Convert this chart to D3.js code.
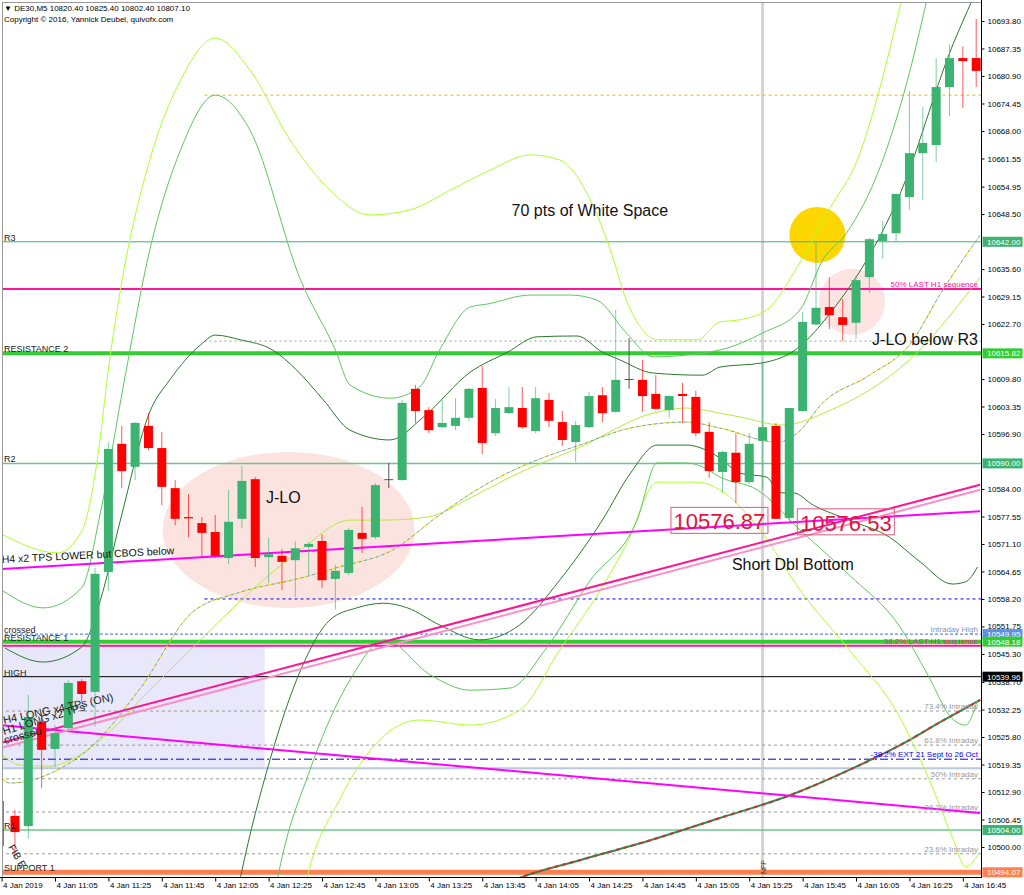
<!DOCTYPE html>
<html>
<head>
<meta charset="utf-8">
<script src="https://cdn.jsdelivr.net/npm/d3@7"></script>
<style>
body { margin: 0; background: #fff; }
svg { display: block; font-family: "Liberation Sans", Arial, sans-serif; }
</style>
</head>
<body>
<div id="chart"></div>
<script>
const w = 1024, h = 895;
const plotR = 981, plotB = 877;

const barStart = new Date(2019, 0, 4, 10, 45);
const barMinutes = 5;
const lastBar = 73;

// DE30 M5 candles, bar 1 = 10:50 ... bar 73 = 16:50
const opens = [10507.3, 10504.9, 10529.3, 10523.0, 10527.9, 10538.9, 10536.4, 10564.5, 10594.6, 10589.2,
  10598.8, 10593.6, 10584.2, 10577.4, 10576.0, 10573.9, 10567.8, 10577.0, 10586.3, 10568.0,
  10568.3, 10567.3, 10570.4, 10571.8, 10562.9, 10564.3, 10573.7, 10572.7, 10586.3, 10586.1,
  10607.5, 10602.5, 10598.5, 10598.8, 10600.7, 10607.7, 10597.1, 10601.8, 10603.0, 10597.6,
  10604.9, 10599.7, 10595.0, 10598.5, 10606.0, 10602.1, 10609.8, 10609.6, 10606.3, 10602.5,
  10606.3, 10605.6, 10597.4, 10588.0, 10592.5, 10585.6, 10595.3, 10598.8, 10577.2, 10602.3,
  10622.6, 10626.7, 10624.3, 10623.0, 10633.7, 10642.2, 10644.0, 10652.5, 10662.8, 10664.7,
  10678.3, 10685.1, 10685.1];
const highs = [10508.7, 10535.7, 10531.2, 10528.6, 10539.2, 10539.4, 10565.5, 10595.0, 10598.8, 10599.7,
  10601.8, 10597.4, 10586.1, 10582.8, 10577.4, 10577.9, 10583.8, 10589.4, 10586.8, 10572.5,
  10569.9, 10571.8, 10571.6, 10573.4, 10566.2, 10574.8, 10579.8, 10585.4, 10590.1, 10604.9,
  10608.4, 10603.2, 10604.9, 10605.3, 10607.7, 10612.9, 10605.1, 10607.9, 10607.9, 10607.9,
  10606.5, 10602.3, 10600.0, 10606.8, 10607.9, 10626.0, 10619.4, 10614.3, 10610.7, 10606.0,
  10608.9, 10607.0, 10599.7, 10593.0, 10597.1, 10597.1, 10613.6, 10599.5, 10603.0, 10625.5,
  10642.0, 10633.7, 10628.6, 10634.0, 10642.9, 10646.9, 10653.4, 10677.4, 10673.6, 10685.1,
  10688.2, 10687.9, 10694.3];
const lows = [10497.4, 10501.9, 10513.8, 10518.8, 10527.5, 10533.8, 10528.2, 10560.1, 10584.2, 10586.1,
  10593.1, 10580.2, 10575.5, 10572.7, 10568.0, 10567.8, 10566.4, 10574.8, 10565.7, 10561.9,
  10560.3, 10558.7, 10563.6, 10560.8, 10555.7, 10563.8, 10569.0, 10572.3, 10584.2, 10585.9,
  10599.5, 10597.1, 10598.3, 10597.8, 10600.0, 10592.2, 10596.4, 10601.6, 10598.1, 10597.1,
  10598.5, 10594.1, 10590.3, 10598.3, 10599.7, 10601.8, 10607.5, 10602.1, 10602.5, 10600.7,
  10599.5, 10596.4, 10586.6, 10583.1, 10580.7, 10585.2, 10583.8, 10576.87, 10576.53, 10602.1,
  10622.4, 10621.5, 10618.7, 10619.2, 10630.0, 10638.0, 10642.2, 10649.5, 10651.8, 10660.7,
  10671.5, 10673.4, 10678.3];
const closes = [10503.5, 10530.5, 10522.8, 10526.7, 10538.5, 10535.9, 10564.1, 10593.4, 10588.2, 10599.5,
  10593.6, 10584.5, 10577.0, 10577.1, 10573.7, 10568.3, 10576.3, 10585.9, 10567.8, 10568.7,
  10566.9, 10570.1, 10571.1, 10562.6, 10564.8, 10574.4, 10572.3, 10584.9, 10586.3, 10604.2,
  10602.3, 10597.8, 10599.5, 10600.7, 10607.5, 10594.8, 10603.0, 10603.2, 10598.5, 10605.3,
  10600.0, 10595.5, 10599.0, 10605.8, 10601.8, 10609.6, 10609.8, 10605.8, 10602.8, 10605.8,
  10605.8, 10597.1, 10588.2, 10592.7, 10585.6, 10594.6, 10598.5, 10577.0, 10603.0, 10623.2,
  10626.5, 10624.8, 10622.5, 10633.0, 10642.6, 10643.8, 10653.2, 10662.8, 10665.2, 10678.3,
  10685.1, 10684.4, 10682.1];

// band / average lines as [bar, price]
const bbUpper1 = [[0.25,10546.7],[3.1,10543.4],[6.0,10546.9],[7.4,10557.9],[8.9,10576.7],[11.1,10602.1],[12.6,10609.6],[14.9,10617.8],[16.0,10620.1],[17.9,10619.0],[20.3,10616.6],[22.1,10611.9],[24.1,10604.9],[26.1,10597.8],[29.1,10595.5],[31.6,10600.9],[35.1,10611.4],[37.9,10616.1],[40.1,10619.7],[43.1,10619.9],[45.0,10616.1],[46.3,10614.3],[48.8,10611.2],[52.5,10610.7],[53.8,10612.6],[57.0,10613.6],[59.1,10615.9],[62.8,10628.3],[64.8,10637.7],[67.1,10651.8],[71.3,10688.6],[72.7,10698.7]];
const bbLower1 = [[16.5,10470],[17.9,10493.0],[20.1,10520.4],[22.4,10541.5],[24.6,10553.3],[26.6,10556.1],[28.6,10557.2],[30.4,10556.1],[32.8,10552.1],[35.8,10548.6],[38.8,10552.1],[41.8,10562.6],[45.0,10576.7],[47.1,10587.7],[49.1,10594.3],[51.3,10594.3],[53.8,10591.3],[55.3,10587.7],[57.3,10586.8],[58.3,10583.1],[59.3,10583.1],[60.8,10580.2],[63.5,10576.7],[66.5,10572.7],[68.8,10566.9],[71.2,10561.7],[72.2,10562.2],[73.1,10565.7]];
const bbUpper2 = [[0,10560.3],[3.1,10556.1],[6.0,10560.8],[7.4,10578.4],[9.2,10609.6],[11.1,10640.1],[13.4,10663.5],[16.0,10676.4],[18.6,10668.2],[22.4,10633.0],[25.0,10616.6],[26.1,10608.4],[29.1,10605.3],[31.3,10607.9],[32.8,10616.6],[35.1,10626.7],[36.4,10627.4],[39.6,10629.5],[42.6,10629.5],[44.6,10628.3],[46.8,10620.6],[48.8,10615.0],[52.5,10615.9],[53.8,10616.6],[57.0,10620.6],[59.8,10626.0],[61.5,10637.7],[63.3,10644.1],[65.8,10659.5],[67.8,10679.3],[69.3,10698.7]];
const bbLower2 = [[19.5,10470],[20.7,10493.0],[23.1,10518.1],[26.1,10539.2],[28.7,10548.6],[32.1,10540.4],[35.1,10536.8],[38.1,10537.3],[40.7,10546.2],[44.1,10562.6],[47.6,10576.7],[49.1,10590.1],[51.3,10590.1],[52.5,10589.2],[53.8,10586.8],[56.6,10583.8],[59.8,10574.4],[63.5,10563.8],[67.3,10551.6],[69.3,10540.8],[71.3,10529.8],[72.2,10528.6],[73.1,10534.5]];
const bbUpper3 = [[0,10573.4],[4.2,10569.0],[6.0,10574.1],[7.4,10596.2],[7.9,10609.6],[8.9,10630.7],[11.1,10661.2],[13.4,10679.9],[16.0,10689.8],[18.6,10682.3],[21.6,10665.9],[24.6,10654.1],[27.6,10648.3],[30.6,10649.5],[33.6,10654.1],[36.6,10658.8],[39.6,10662.4],[41.8,10661.2],[44.1,10651.8],[45.6,10640.1],[46.8,10628.3],[49.2,10619.0],[52.1,10619.0],[53.8,10623.2],[55.3,10623.7],[57.3,10626.0],[59.6,10636.1],[62.1,10650.2],[64.1,10661.2],[65.8,10678.3],[67.4,10698.7]];
const bbLower3 = [[21.5,10470],[22.9,10493.0],[25.3,10511.0],[28.3,10525.1],[31.3,10529.8],[35.1,10528.6],[38.8,10532.1],[41.8,10546.2],[44.8,10560.0],[46.8,10571.0],[49.1,10585.6],[52.1,10585.6],[53.8,10583.8],[56.8,10574.4],[59.8,10560.3],[63.5,10546.2],[67.3,10530.3],[69.8,10513.4],[71.3,10501.6],[72.2,10495.3],[73.1,10498.1]];
const maDashed = [[0,10516.2],[0.6,10515.0],[4.2,10518.1],[6.6,10523.2],[10.4,10537.3],[14.3,10555.1],[17.9,10559.8],[22.4,10563.1],[25.3,10565.7],[29.3,10569.7],[32.8,10577.9],[35.8,10584.2],[40.1,10590.8],[43.3,10594.3],[47.1,10598.3],[51.3,10599.7],[53.8,10598.3],[58.1,10595.0],[59.6,10597.1],[61.5,10604.2],[65.0,10610.7],[68.0,10617.8],[70.5,10630.7],[73.3,10643.6]];
const maSolid = [[0,10521.8],[1.4,10519.2],[3.6,10519.0],[5.6,10521.1],[7.4,10525.1],[11.1,10536.8],[14.9,10548.6],[18.6,10559.8],[22.4,10569.7],[26.1,10576.7],[28.6,10576.7],[31.9,10577.4],[35.1,10581.9],[38.1,10586.8],[43.3,10593.8],[48.8,10601.8],[51.3,10603.0],[53.8,10601.8],[55.3,10600.9],[58.5,10599.0],[62.1,10602.5],[68.0,10614.3],[73.3,10633.7]];
const maSlow = [[35.8,10488.7],[39.0,10493.0],[43.3,10496.9],[48.6,10501.6],[53.8,10506.8],[59.1,10512.2],[63.5,10518.1],[67.3,10523.9],[70.3,10529.3],[73.3,10534.5]];

// trend lines [[bar, price], [bar, price]]
const tlH4Lower = [[-0.12,10565.2],[73.29,10578.8]];
const tlDown = [[-0.12,10528.6],[73.29,10508.0]];
const tlH4Long = [[-0.12,10524.4],[73.29,10585.0]];
const tlH1Long = [[-0.12,10523.2],[73.29,10583.8]];

// horizontal levels
const levelNames = ["R3", "50% LAST H1", "RESISTANCE 2", "R2", "Intraday High", "RESISTANCE 1", "38.2% LAST H1", "HIGH",
  "73.4% Intraday", "61.8% Intraday", "EXT", "steel", "50% Intraday", "38.2% Intraday", "R1", "23.6% Intraday", "SUPPORT 1"];
const levelPrices = [10642.00, 10630.9, 10615.82, 10590.00, 10549.95, 10548.18, 10547.2, 10539.96,
  10531.9, 10523.9, 10520.6, 10518.5, 10516.0, 10508.2, 10504.00, 10498.4, 10494.07];
const leftLabels = {"R3": "R3", "RESISTANCE 2": "RESISTANCE 2", "R2": "R2", "Intraday High": "crossed",
  "RESISTANCE 1": "RESISTANCE 1", "HIGH": "HIGH", "R1": "R1", "SUPPORT 1": "SUPPORT 1"};
const rightLabels = {"50% LAST H1": "50%  LAST H1 sequence", "Intraday High": "Intraday High",
  "38.2% LAST H1": "38.2%  LAST H1 sequence", "73.4% Intraday": "73.4%  Intraday", "61.8% Intraday": "61.8%  Intraday",
  "EXT": "-38.2%  EXT 21 Sept to 26 Oct", "50% Intraday": "50%  Intraday", "38.2% Intraday": "38.2%  Intraday",
  "23.6% Intraday": "23.6%  Intraday"};
const shortLevelPrices = [10676.4, 10618.7, 10558.2];
const shortLevelFrom = 15.2;

// right axis
const yTickLabels = ["10693.80","10687.35","10680.90","10674.45","10668.00","10661.55","10654.95","10648.50",
  "10635.60","10629.15","10622.70","10609.80","10603.35","10596.90","10584.00","10577.55","10571.10",
  "10564.65","10558.20","10551.75","10545.30","10538.70","10532.25","10525.80","10519.35","10512.90",
  "10506.45","10500.00"];
const tagPrices = [10642.00, 10615.82, 10590.00, 10549.95, 10548.18, 10539.96, 10504.00, 10494.07];
const tagColors = ["#3cb371", "#32cd32", "#3cb371", "#5f8ee8", "#32cd32", "#000000", "#3cb371", "#ff7f50"];

const nfpBar = 57;

const levelStyle = {
  "R3": {c: "#3cb371", w: 1},
  "50% LAST H1": {c: "#ff1493", w: 2},
  "RESISTANCE 2": {c: "#32cd32", w: 4},
  "R2": {c: "#6cc48e", w: 1.5},
  "Intraday High": {c: "#4169e1", w: 1, d: "3,2"},
  "RESISTANCE 1": {c: "#32cd32", w: 4},
  "38.2% LAST H1": {c: "#ff1493", w: 2},
  "HIGH": {c: "#000", w: 1},
  "73.4% Intraday": {c: "#999", w: 1, d: "3,3"},
  "61.8% Intraday": {c: "#999", w: 1, d: "3,3"},
  "EXT": {c: "#0000cd", w: 1, d: "8,3,2,3"},
  "steel": {c: "#b8c8de", w: 2},
  "50% Intraday": {c: "#999", w: 1, d: "3,3"},
  "38.2% Intraday": {c: "#999", w: 1, d: "3,3"},
  "R1": {c: "#6cc48e", w: 1.5},
  "23.6% Intraday": {c: "#999", w: 1, d: "3,3"},
  "SUPPORT 1": {c: "#ff7f50", w: 5}
};
const rightLabelColor = {"50% LAST H1": "#ff1493", "38.2% LAST H1": "#ff1493", "Intraday High": "#8595b5", "EXT": "#0000ff"};

const x = d3.scaleLinear().domain([0, lastBar]).range([1.6, 976.2]);
const y = d3.scaleLinear().domain([10500, 10693.8]).range([847, 21]);
const xTime = d3.scaleTime()
  .domain([barStart, d3.timeMinute.offset(barStart, lastBar * barMinutes)])
  .range(x.range());

const svg = d3.select("#chart").append("svg")
  .attr("width", w).attr("height", h);

svg.append("defs").append("clipPath").attr("id", "plot")
  .append("rect").attr("x", 2).attr("y", 2).attr("width", plotR - 2).attr("height", plotB - 2);

const plot = svg.append("g").attr("clip-path", "url(#plot)");

// shaded box
plot.append("rect")
  .attr("x", 0).attr("width", x(19.7))
  .attr("y", y(10547.2)).attr("height", y(10518.5) - y(10547.2))
  .attr("fill", "#e8e8fa");

// J-LO zones and the gold spot
plot.append("ellipse")
  .attr("cx", x(21.5)).attr("cy", y(10574.4)).attr("rx", 126).attr("ry", 78)
  .attr("fill", "#fbe0dc").attr("opacity", 0.9);
plot.append("circle")
  .attr("cx", x(63.7)).attr("cy", y(10627.9)).attr("r", 33)
  .attr("fill", "#fde0de").attr("opacity", 0.9);
plot.append("circle")
  .attr("cx", x(61.1)).attr("cy", y(10643.6)).attr("r", 28)
  .attr("fill", "#ffd700");

// NFP
plot.append("line")
  .attr("x1", x(nfpBar)).attr("x2", x(nfpBar)).attr("y1", 2).attr("y2", plotB)
  .attr("stroke", "#d4d4d4").attr("stroke-width", 3);

// levels
levelNames.forEach((name, k) => {
  const s = levelStyle[name];
  const yy = y(levelPrices[k]);
  plot.append("line")
    .attr("x1", 0).attr("x2", plotR).attr("y1", yy).attr("y2", yy)
    .attr("stroke", s.c).attr("stroke-width", s.w)
    .attr("stroke-dasharray", s.d || null);
});
const shortStyles = [{c: "#f5b800", d: "3,3"}, {c: "#8aa88a", d: "2,3"}, {c: "#0000ff", d: "3,3"}];
shortLevelPrices.forEach((p, k) => {
  plot.append("line")
    .attr("x1", x(shortLevelFrom)).attr("x2", plotR).attr("y1", y(p)).attr("y2", y(p))
    .attr("stroke", shortStyles[k].c).attr("stroke-dasharray", shortStyles[k].d);
});

// bands and averages
const line = d3.line().x(d => x(d[0])).y(d => y(d[1])).curve(d3.curveMonotoneX);
function drawLine(data, color, width, dash, offset) {
  plot.append("path").datum(data)
    .attr("d", line).attr("fill", "none")
    .attr("stroke", color).attr("stroke-width", width)
    .attr("stroke-dasharray", dash || null)
    .attr("stroke-dashoffset", offset || null);
}
drawLine(maSlow, "#2e8b57", 2);
drawLine(maSlow, "#c0392b", 2, "4,4");
drawLine(bbUpper3, "#adff2f", 1);
drawLine(bbLower3, "#adff2f", 1);
drawLine(bbUpper2, "#5cc85c", 1);
drawLine(bbLower2, "#5cc85c", 1);
drawLine(bbUpper1, "#2a7a2a", 1);
drawLine(bbLower1, "#2a7a2a", 1);
drawLine(maSolid, "#b4ee3c", 1);
drawLine(maDashed, "#5f9ea0", 1, "3,3");
drawLine(maDashed, "#eee000", 1, "3,3", 3);

// trend lines
const straight = d3.line().x(d => x(d[0])).y(d => y(d[1]));
[[tlH4Lower, "#ff00ff"], [tlDown, "#ff00ff"], [tlH1Long, "#ff8ec8"], [tlH4Long, "#ff1493"]].forEach(([d, c]) => {
  plot.append("path").datum(d).attr("d", straight)
    .attr("fill", "none").attr("stroke", c).attr("stroke-width", 2);
});

// candles
const candles = opens.map((o, k) => ({i: k + 1, o, h: highs[k], l: lows[k], c: closes[k]}));
const colorOf = d => d.c > d.o ? "#3cb371" : d.c < d.o ? "#ff0000" : "#555";
const cg = plot.append("g").selectAll("g").data(candles).join("g");
cg.append("line")
  .attr("x1", d => x(d.i)).attr("x2", d => x(d.i))
  .attr("y1", d => y(d.h)).attr("y2", d => y(d.l))
  .attr("stroke", colorOf).attr("stroke-opacity", d => d.c === d.o ? 1 : 0.65);
cg.append("rect")
  .attr("x", d => x(d.i) - 4.5).attr("width", 9)
  .attr("y", d => y(Math.max(d.o, d.c)))
  .attr("height", d => Math.max(1, Math.abs(y(d.o) - y(d.c))))
  .attr("fill", colorOf);

// left level labels
levelNames.forEach((name, k) => {
  if (leftLabels[name]) {
    plot.append("text").attr("x", 4).attr("y", y(levelPrices[k]) - 1)
      .attr("font-size", 9).attr("fill", "#222").text(leftLabels[name]);
  }
  if (rightLabels[name]) {
    plot.append("text").attr("x", 978).attr("y", y(levelPrices[k]) - 2)
      .attr("text-anchor", "end").attr("font-size", 8)
      .attr("fill", rightLabelColor[name] || "#999").text(rightLabels[name]);
  }
});

// trendline notes
plot.append("text")
  .attr("transform", `translate(2,${y(tlH4Lower[0][1]) - 6}) rotate(-3)`)
  .attr("font-size", 10.5).attr("fill", "#111").text("H4 x2 TPS LOWER but CBOS below");
plot.append("text")
  .attr("transform", `translate(4,${y(tlH4Long[0][1]) - 19}) rotate(-12)`)
  .attr("font-size", 11).attr("fill", "#222").text("H4 LONG x4 TPs (ON)");
plot.append("text")
  .attr("transform", `translate(4,${y(tlH4Long[0][1]) - 8}) rotate(-17)`)
  .attr("font-size", 11).attr("fill", "#222").text("H1 LONG x2 TPs");
plot.append("text")
  .attr("transform", `translate(5,${y(tlH4Long[0][1]) + 1}) rotate(-15)`)
  .attr("font-size", 11).attr("fill", "#222").text("crossed");
plot.append("line").attr("x1", 3).attr("x2", 3).attr("y1", y(10510.8)).attr("y2", y(10500.2))
  .attr("stroke", "#000");
plot.append("text")
  .attr("transform", `translate(8,${y(10500)}) rotate(60)`)
  .attr("font-size", 10).attr("fill", "#222").text("FIB E");
plot.append("text")
  .attr("transform", `translate(${x(nfpBar) + 3},${plotB - 3}) rotate(-90)`)
  .attr("font-size", 7).attr("fill", "#333").text("NFP");

// annotations
const notes = [
  {t: "70 pts of White Space", i: 38.2, p: 10648.0},
  {t: "J-LO below R3", i: 65.2, p: 10617.8},
  {t: "Short Dbl Bottom", i: 54.7, p: 10565.0},
  {t: "J-LO", i: 19.8, p: 10580.7}
];
plot.selectAll(".note").data(notes).join("text")
  .attr("x", d => x(d.i)).attr("y", d => y(d.p))
  .attr("font-size", 16).attr("fill", "#111").text(d => d.t);

// low price boxes
const lowBoxes = [{bar: 58, anchor: "end"}, {bar: 59, anchor: "start"}];
lowBoxes.forEach(b => {
  const p = lows[b.bar - 1];
  const bx = b.anchor === "end" ? x(b.bar) - 105 : x(b.bar) + 8;
  plot.append("rect").attr("x", bx).attr("y", y(p) - 12).attr("width", 97).attr("height", 26)
    .attr("fill", "none").attr("stroke", "#e05a78").attr("stroke-width", 1);
  plot.append("text").attr("x", bx + 48.5).attr("y", y(p) + 10)
    .attr("text-anchor", "middle").attr("font-size", 22).attr("fill", "#e0143c")
    .text(p.toFixed(2));
});

// frame
svg.append("line").attr("x1", 2).attr("x2", plotR).attr("y1", 2.5).attr("y2", 2.5).attr("stroke", "#999");
svg.append("line").attr("x1", 2.5).attr("x2", 2.5).attr("y1", 2).attr("y2", plotB).attr("stroke", "#999");
svg.append("line").attr("x1", 0).attr("x2", plotR + 0.5).attr("y1", plotB + 0.5).attr("y2", plotB + 0.5).attr("stroke", "#000");
svg.append("line").attr("x1", plotR + 0.5).attr("x2", plotR + 0.5).attr("y1", 0).attr("y2", plotB + 1).attr("stroke", "#000");

// header
svg.append("text").attr("x", 4).attr("y", 11).attr("font-size", 8).attr("fill", "#000")
  .text("\u25BC DE30,M5  10820.40 10825.40 10802.40 10807.10");
svg.append("text").attr("x", 4).attr("y", 22).attr("font-size", 8).attr("fill", "#000")
  .text("Copyright \u00A9 2016, Yannick Deubel, quivofx.com");

// right axis
const yAxis = d3.axisRight(y)
  .tickValues(yTickLabels.map(Number))
  .tickFormat((d, k) => yTickLabels[k])
  .tickSize(3).tickPadding(3);
const ya = svg.append("g").attr("transform", `translate(${plotR + 0.5},0)`).call(yAxis);
ya.select(".domain").remove();
ya.selectAll("text").attr("font-size", 8).attr("font-family", "Liberation Sans, Arial, sans-serif").attr("fill", "#000");

const tags = svg.append("g");
tagPrices.forEach((p, k) => {
  tags.append("rect").attr("x", plotR + 1.5).attr("y", y(p) - 5).attr("width", 40).attr("height", 10)
    .attr("fill", tagColors[k]);
  tags.append("text").attr("x", plotR + 6).attr("y", y(p) + 3)
    .attr("font-size", 8).attr("fill", "#fff").text(p.toFixed(2));
});

// time axis
const tickBars = d3.range(0, lastBar, 4);
const xAxis = d3.axisBottom(xTime)
  .tickValues(tickBars.map(i => d3.timeMinute.offset(barStart, i * barMinutes)))
  .tickFormat((d, k) => k === 0 ? d3.timeFormat("%-d %b %Y")(d) : d3.timeFormat("%-d %b %H:%M")(d))
  .tickSize(4).tickPadding(1);
const xa = svg.append("g").attr("transform", `translate(0,${plotB + 0.5})`).call(xAxis);
xa.select(".domain").remove();
xa.selectAll("text").attr("text-anchor", "start").attr("dx", 1)
  .attr("font-size", 8).attr("font-family", "Liberation Sans, Arial, sans-serif").attr("fill", "#000");
</script>
</body>
</html>
